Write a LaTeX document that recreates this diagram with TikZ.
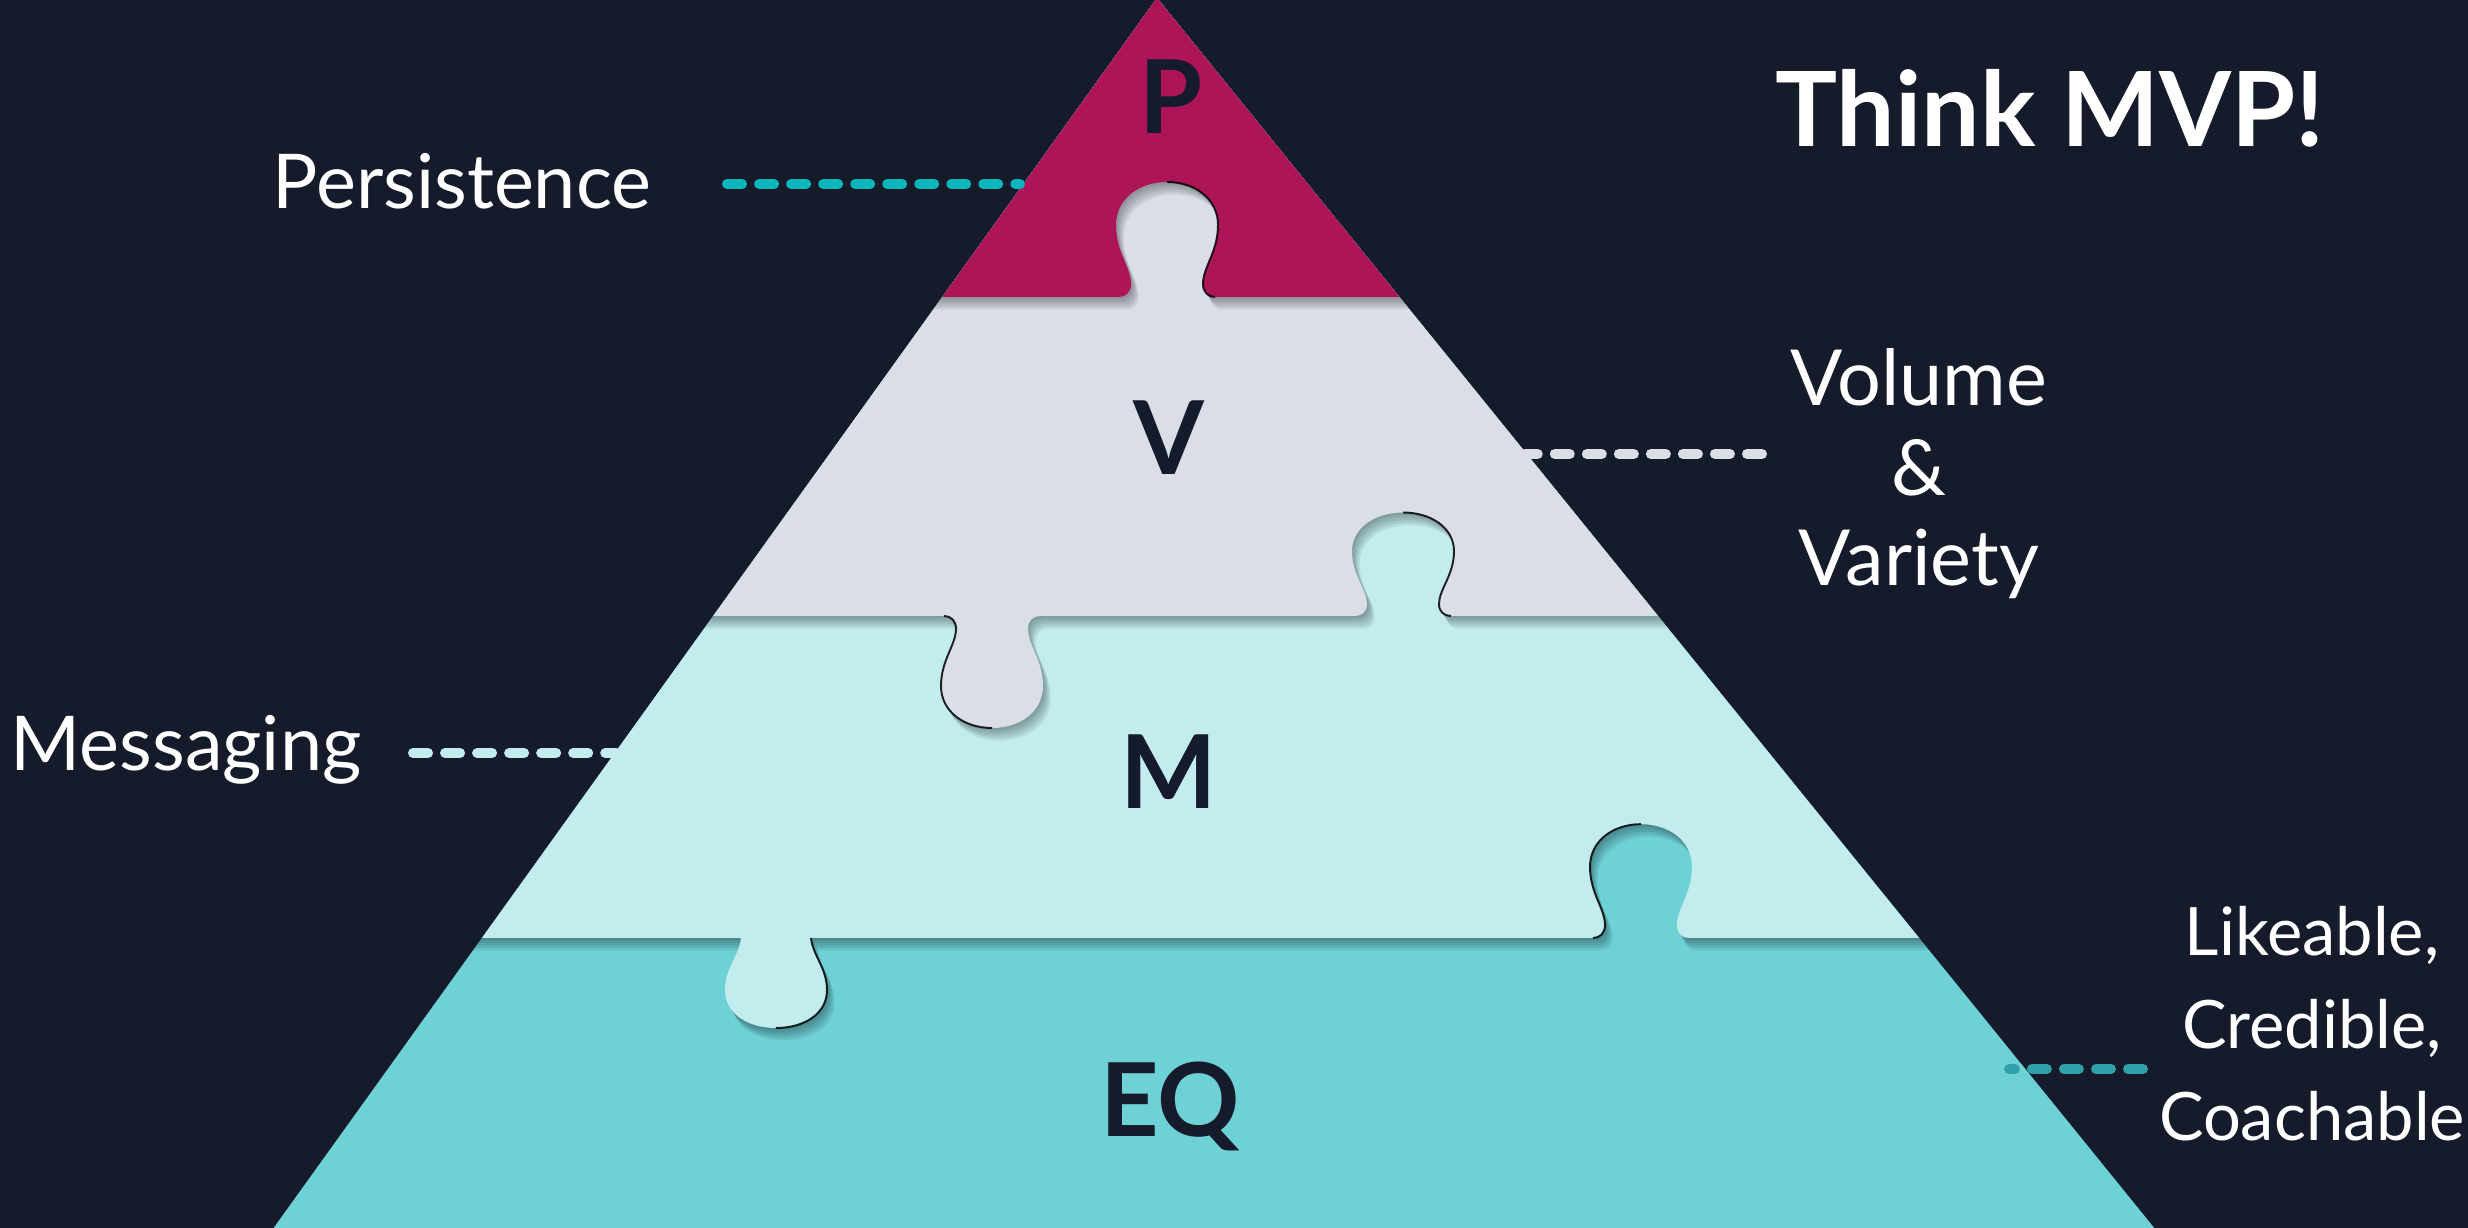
\documentclass[tikz,border=0pt]{standalone}
\usepackage{fontspec}
\setmainfont{Lato}
\definecolor{bg}{HTML}{161B2C}
\definecolor{tierP}{HTML}{AD1558}
\definecolor{tierV}{HTML}{DADEE7}
\definecolor{tierM}{HTML}{C2ECEE}
\definecolor{tierEQ}{HTML}{6ED1D6}
\definecolor{dashP}{HTML}{0CB5BE}
\definecolor{dashEQ}{HTML}{32A0A8}

% puzzle tab with a flared neck; #1 centre x, #2 base y, #3 signed height factor
\newcommand\tableft[3]{%
  ({#1-48},{#2})
  .. controls ({#1-41},{#2}) and ({#1-36},{#2+5*#3}) .. ({#1-36},{#2+13*#3})
  .. controls ({#1-36},{#2+30*#3}) and ({#1-51},{#2+45*#3}) .. ({#1-51},{#2+72*#3})
  .. controls ({#1-51},{#2+98*#3}) and ({#1-28},{#2+115*#3}) .. ({#1},{#2+115*#3})}
\newcommand\tabright[3]{%
  ({#1},{#2+115*#3})
  .. controls ({#1+28},{#2+115*#3}) and ({#1+51},{#2+98*#3}) .. ({#1+51},{#2+72*#3})
  .. controls ({#1+51},{#2+45*#3}) and ({#1+36},{#2+30*#3}) .. ({#1+36},{#2+13*#3})
  .. controls ({#1+36},{#2+5*#3}) and ({#1+41},{#2}) .. ({#1+48},{#2})}
\newcommand\tabpath[3]{-- \tableft{#1}{#2}{#3} -- \tabright{#1}{#2}{#3}}
% teardrop tab without a flare
\newcommand\dropleft[3]{%
  ({#1-35},{#2})
  .. controls ({#1-37},{#2+18*#3}) and ({#1-51},{#2+30*#3}) .. ({#1-51},{#2+52*#3})
  .. controls ({#1-51},{#2+76*#3}) and ({#1-28},{#2+90*#3}) .. ({#1},{#2+90*#3})}
\newcommand\dropright[3]{%
  ({#1},{#2+90*#3})
  .. controls ({#1+28},{#2+90*#3}) and ({#1+51},{#2+76*#3}) .. ({#1+51},{#2+52*#3})
  .. controls ({#1+51},{#2+30*#3}) and ({#1+37},{#2+18*#3}) .. ({#1+35},{#2})}
\newcommand\droppath[3]{-- \dropleft{#1}{#2}{#3} -- \dropright{#1}{#2}{#3}}

% regions lying above each joint line
\def\regP{(-20,297) \tabpath{1167}{297}{(-1)} -- (2490,297) -- (2490,-30) -- (-20,-30) -- cycle}
\def\regV{(-20,616) \tabpath{992}{616}{(0.974)} \tabpath{1403}{616}{(-0.9)} -- (2490,616) -- (2490,-30) -- (-20,-30) -- cycle}
\def\regM{(-20,938) \droppath{776}{938}{(1)} \tabpath{1641}{938}{(-0.99)} -- (2490,938) -- (2490,-30) -- (-20,-30) -- cycle}

\begin{document}
\begin{tikzpicture}[x=0.01cm, y=-0.01cm,
  label/.style={text=white, inner sep=0pt, font=\fontsize{21.5pt}{25.5pt}\selectfont},
  tierletter/.style={text=bg, inner sep=0pt, anchor=base, font=\bfseries\fontsize{29pt}{32pt}\selectfont},
  dashline/.style={line width=2.845pt, line cap=round, dash pattern=on 4.27pt off 4.84pt},
  pieceshadow/.style={black, opacity=0.075},
  cutline/.style={draw=black, line width=0.55pt, opacity=0.85}]

\useasboundingbox (0,0) rectangle (2468,1228);
\fill[bg] (0,0) rectangle (2468,1228);

% pyramid of interlocking pieces
\begin{scope}
  \clip (1157,-2) -- (2164,1240) -- (265,1240) -- cycle;
  \fill[tierEQ] (0,-30) rectangle (2468,1240);
  \foreach \d in {1,...,5} {\fill[pieceshadow, shift={(\d*1.5,\d*2.5)}] \regM;}
  \fill[tierM] \regM;
  \foreach \d in {1,...,5} {\fill[pieceshadow, shift={(\d*1.5,\d*2.5)}] \regV;}
  \fill[tierV] \regV;
  \foreach \d in {1,...,5} {\fill[pieceshadow, shift={(\d*1.5,\d*2.5)}] \regP;}
  \fill[tierP] \regP;
  % fine cut edges along one flank of each tab
  \draw[cutline] \tabright{1167}{297}{(-1)};
  \draw[cutline] \tableft{992}{616}{(0.974)};
  \draw[cutline] \tabright{1403}{616}{(-0.9)};
  \draw[cutline] \dropright{776}{938}{(1)};
  \draw[cutline] \tableft{1641}{938}{(-0.99)};
\end{scope}

% tier letters
\node[tierletter] (letP) at (1171,134) {P};
\node[tierletter] (letV) at (1169,475) {V};
\node[tierletter] (letM) at (1169,809) {M};
\node[tierletter] (letEQ) at (1170,1137) {EQ};

% title
\node[text=white, inner sep=0pt, anchor=base, font=\bfseries\fontsize{29.5pt}{32pt}\selectfont] (title) at (2050,147) {Think MVP!};

% side labels
\node[label, anchor=base] (persist) at (462,209) {Persistence};
\node[label, anchor=base] (msg) at (186,771) {Messaging};
\node[label, align=center, anchor=north, font=\fontsize{22pt}{25.5pt}\selectfont] (volvar) at (1919,348) {Volume\\\&\\Variety};
\node[label, align=center, anchor=north, font=\fontsize{19pt}{26.3pt}\selectfont] (lcc) at (2312,906) {Likeable,\\Credible,\\Coachable};

% leader lines from the labels to the pyramid
\coordinate (persistL) at (727,184);
\coordinate (persistR) at (1020,184);
\coordinate (volL) at (1525,454);
\coordinate (volR) at (1762,454);
\coordinate (msgL) at (413,753);
\coordinate (msgR) at (616,753);
\coordinate (lccL) at (2009,1069);
\coordinate (lccR) at (2143,1069);
\draw[dashline, dashP] (persistL) -- (persistR);
\draw[dashline, tierV] (volR) -- (volL);
\draw[dashline, tierM] (msgL) -- (msgR);
\draw[dashline, dashEQ] (lccR) -- (lccL);
\end{tikzpicture}
\end{document}
